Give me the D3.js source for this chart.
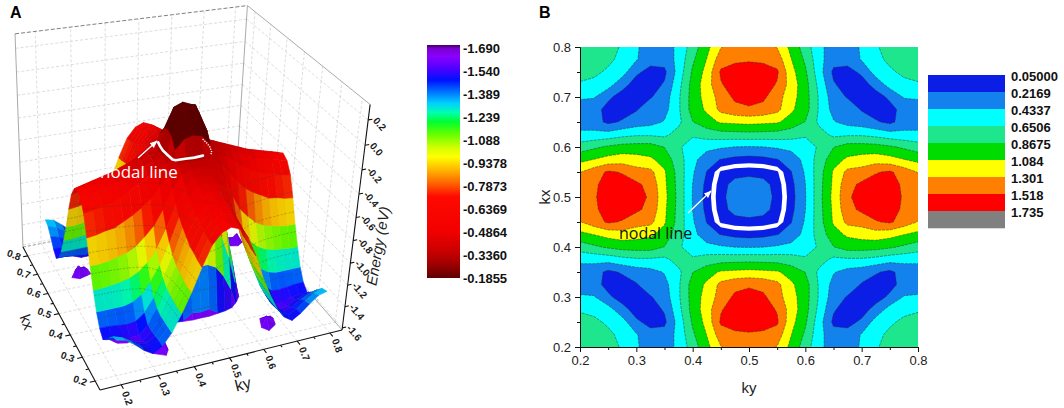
<!DOCTYPE html>
<html>
<head>
<meta charset="utf-8">
<script src="https://cdn.jsdelivr.net/npm/d3@7/dist/d3.min.js"></script>
<style>
html,body{margin:0;padding:0;background:#fff;}
svg{display:block;font-family:"Liberation Sans",Arial,sans-serif;}
</style>
</head>
<body>
<svg id="chart" width="1064" height="408"></svg>
<script>
// ---------------- DATA ----------------
// k-grid (both kx and ky), step 0.025
const kGrid = [0.2,0.225,0.25,0.275,0.3,0.325,0.35,0.375,0.4,0.425,0.45,0.475,0.5,0.525,0.55,0.575,0.6,0.625,0.65,0.675,0.7,0.725,0.75,0.775,0.8];
// signed gap band1 - band2 (eV); rows = kx ascending, cols = ky ascending (negative inside the nodal ring)
const gapGrid = [
[0.78,0.76,0.72,0.63,0.46,0.33,0.34,0.48,0.76,1.02,1.29,1.38,1.42,1.38,1.29,1.02,0.76,0.48,0.34,0.33,0.46,0.63,0.72,0.76,0.78],
[0.76,0.72,0.69,0.60,0.45,0.30,0.30,0.50,0.83,1.09,1.42,1.50,1.50,1.50,1.42,1.09,0.83,0.50,0.30,0.30,0.45,0.60,0.69,0.72,0.76],
[0.72,0.69,0.62,0.52,0.26,0.14,0.17,0.52,0.90,1.16,1.55,1.56,1.60,1.56,1.55,1.16,0.90,0.52,0.17,0.14,0.26,0.52,0.62,0.69,0.72],
[0.63,0.60,0.52,0.30,0.12,0.12,0.24,0.58,0.95,1.20,1.50,1.62,1.66,1.62,1.50,1.20,0.95,0.58,0.24,0.12,0.12,0.30,0.52,0.60,0.63],
[0.46,0.45,0.26,0.12,0.10,0.20,0.32,0.62,0.96,1.17,1.39,1.56,1.62,1.56,1.39,1.17,0.96,0.62,0.32,0.20,0.10,0.12,0.26,0.45,0.46],
[0.33,0.30,0.14,0.12,0.20,0.34,0.36,0.62,0.96,1.12,1.36,1.45,1.48,1.45,1.36,1.12,0.96,0.62,0.36,0.34,0.20,0.12,0.14,0.30,0.33],
[0.34,0.30,0.17,0.24,0.32,0.36,0.45,0.60,0.86,1.00,1.11,1.13,1.15,1.13,1.11,1.00,0.86,0.60,0.45,0.36,0.32,0.24,0.17,0.30,0.34],
[0.48,0.50,0.52,0.58,0.62,0.62,0.60,0.74,0.68,0.74,0.78,0.79,0.80,0.79,0.78,0.74,0.68,0.74,0.60,0.62,0.62,0.58,0.52,0.50,0.48],
[0.76,0.83,0.90,0.95,0.96,0.96,0.86,0.68,0.55,0.51,0.46,0.43,0.42,0.43,0.46,0.51,0.55,0.68,0.86,0.96,0.96,0.95,0.90,0.83,0.76],
[1.02,1.09,1.16,1.20,1.17,1.12,1.00,0.74,0.51,0.29,0.21,0.16,0.14,0.16,0.21,0.29,0.51,0.74,1.00,1.12,1.17,1.20,1.16,1.09,1.02],
[1.29,1.42,1.55,1.50,1.39,1.36,1.11,0.78,0.46,0.21,-0.07,-0.14,-0.16,-0.14,-0.07,0.21,0.46,0.78,1.11,1.36,1.39,1.50,1.55,1.42,1.29],
[1.38,1.50,1.56,1.62,1.56,1.45,1.13,0.79,0.43,0.16,-0.14,-0.29,-0.32,-0.29,-0.14,0.16,0.43,0.79,1.13,1.45,1.56,1.62,1.56,1.50,1.38],
[1.42,1.50,1.60,1.66,1.62,1.48,1.15,0.80,0.42,0.14,-0.16,-0.32,-0.33,-0.32,-0.16,0.14,0.42,0.80,1.15,1.48,1.62,1.66,1.60,1.50,1.42],
[1.38,1.50,1.56,1.62,1.56,1.45,1.13,0.79,0.43,0.16,-0.14,-0.29,-0.32,-0.29,-0.14,0.16,0.43,0.79,1.13,1.45,1.56,1.62,1.56,1.50,1.38],
[1.29,1.42,1.55,1.50,1.39,1.36,1.11,0.78,0.46,0.21,-0.07,-0.14,-0.16,-0.14,-0.07,0.21,0.46,0.78,1.11,1.36,1.39,1.50,1.55,1.42,1.29],
[1.02,1.09,1.16,1.20,1.17,1.12,1.00,0.74,0.51,0.29,0.21,0.16,0.14,0.16,0.21,0.29,0.51,0.74,1.00,1.12,1.17,1.20,1.16,1.09,1.02],
[0.76,0.83,0.90,0.95,0.96,0.96,0.86,0.68,0.55,0.51,0.46,0.43,0.42,0.43,0.46,0.51,0.55,0.68,0.86,0.96,0.96,0.95,0.90,0.83,0.76],
[0.48,0.50,0.52,0.58,0.62,0.62,0.60,0.74,0.68,0.74,0.78,0.79,0.80,0.79,0.78,0.74,0.68,0.74,0.60,0.62,0.62,0.58,0.52,0.50,0.48],
[0.34,0.30,0.17,0.24,0.32,0.36,0.45,0.60,0.86,1.00,1.11,1.13,1.15,1.13,1.11,1.00,0.86,0.60,0.45,0.36,0.32,0.24,0.17,0.30,0.34],
[0.33,0.30,0.14,0.12,0.20,0.34,0.36,0.62,0.96,1.12,1.36,1.45,1.48,1.45,1.36,1.12,0.96,0.62,0.36,0.34,0.20,0.12,0.14,0.30,0.33],
[0.46,0.45,0.26,0.12,0.10,0.20,0.32,0.62,0.96,1.17,1.39,1.56,1.62,1.56,1.39,1.17,0.96,0.62,0.32,0.20,0.10,0.12,0.26,0.45,0.46],
[0.63,0.60,0.52,0.30,0.12,0.12,0.24,0.58,0.95,1.20,1.50,1.62,1.66,1.62,1.50,1.20,0.95,0.58,0.24,0.12,0.12,0.30,0.52,0.60,0.63],
[0.72,0.69,0.62,0.52,0.26,0.14,0.17,0.52,0.90,1.16,1.55,1.56,1.60,1.56,1.55,1.16,0.90,0.52,0.17,0.14,0.26,0.52,0.62,0.69,0.72],
[0.76,0.72,0.69,0.60,0.45,0.30,0.30,0.50,0.83,1.09,1.42,1.50,1.50,1.50,1.42,1.09,0.83,0.50,0.30,0.30,0.45,0.60,0.69,0.72,0.76],
[0.78,0.76,0.72,0.63,0.46,0.33,0.34,0.48,0.76,1.02,1.29,1.38,1.42,1.38,1.29,1.02,0.76,0.48,0.34,0.33,0.46,0.63,0.72,0.76,0.78]
];
// energy of band 1 (the upper "sheet", eV); same layout
const band1Grid = [
[-1.30,-1.32,-1.38,-1.45,-1.50,-1.45,-1.35,-1.20,-1.03,-0.83,-0.66,-0.57,-0.54,-0.57,-0.66,-0.83,-1.03,-1.20,-1.35,-1.45,-1.50,-1.45,-1.38,-1.32,-1.30],
[-1.32,-1.35,-1.40,-1.46,-1.50,-1.45,-1.35,-1.20,-1.03,-0.82,-0.65,-0.55,-0.53,-0.55,-0.65,-0.82,-1.03,-1.20,-1.35,-1.45,-1.50,-1.46,-1.40,-1.35,-1.32],
[-1.38,-1.40,-1.44,-1.49,-1.51,-1.46,-1.35,-1.19,-1.02,-0.80,-0.63,-0.53,-0.52,-0.53,-0.63,-0.80,-1.02,-1.19,-1.35,-1.46,-1.51,-1.49,-1.44,-1.40,-1.38],
[-1.45,-1.46,-1.49,-1.53,-1.54,-1.47,-1.35,-1.18,-1.00,-0.79,-0.61,-0.51,-0.50,-0.51,-0.61,-0.79,-1.00,-1.18,-1.35,-1.47,-1.54,-1.53,-1.49,-1.46,-1.45],
[-1.50,-1.50,-1.51,-1.54,-1.54,-1.46,-1.33,-1.16,-0.98,-0.75,-0.58,-0.49,-0.48,-0.49,-0.58,-0.75,-0.98,-1.16,-1.33,-1.46,-1.54,-1.54,-1.51,-1.50,-1.50],
[-1.45,-1.45,-1.46,-1.47,-1.46,-1.40,-1.28,-1.12,-0.94,-0.71,-0.54,-0.46,-0.45,-0.46,-0.54,-0.71,-0.94,-1.12,-1.28,-1.40,-1.46,-1.47,-1.46,-1.45,-1.45],
[-1.35,-1.35,-1.35,-1.35,-1.33,-1.28,-1.18,-1.05,-0.87,-0.66,-0.50,-0.43,-0.42,-0.43,-0.50,-0.66,-0.87,-1.05,-1.18,-1.28,-1.33,-1.35,-1.35,-1.35,-1.35],
[-1.20,-1.20,-1.19,-1.18,-1.16,-1.12,-1.05,-0.95,-0.79,-0.59,-0.45,-0.40,-0.39,-0.40,-0.45,-0.59,-0.79,-0.95,-1.05,-1.12,-1.16,-1.18,-1.19,-1.20,-1.20],
[-1.03,-1.03,-1.02,-1.00,-0.98,-0.94,-0.87,-0.79,-0.66,-0.50,-0.40,-0.37,-0.36,-0.37,-0.40,-0.50,-0.66,-0.79,-0.87,-0.94,-0.98,-1.00,-1.02,-1.03,-1.03],
[-0.83,-0.82,-0.80,-0.79,-0.75,-0.71,-0.66,-0.59,-0.50,-0.42,-0.36,-0.34,-0.34,-0.34,-0.36,-0.42,-0.50,-0.59,-0.66,-0.71,-0.75,-0.79,-0.80,-0.82,-0.83],
[-0.66,-0.65,-0.63,-0.61,-0.58,-0.54,-0.50,-0.45,-0.40,-0.36,-0.33,-0.32,-0.32,-0.32,-0.33,-0.36,-0.40,-0.45,-0.50,-0.54,-0.58,-0.61,-0.63,-0.65,-0.66],
[-0.57,-0.55,-0.53,-0.51,-0.49,-0.46,-0.43,-0.40,-0.37,-0.34,-0.32,-0.31,-0.31,-0.31,-0.32,-0.34,-0.37,-0.40,-0.43,-0.46,-0.49,-0.51,-0.53,-0.55,-0.57],
[-0.54,-0.53,-0.52,-0.50,-0.48,-0.45,-0.42,-0.39,-0.36,-0.34,-0.32,-0.31,-0.31,-0.31,-0.32,-0.34,-0.36,-0.39,-0.42,-0.45,-0.48,-0.50,-0.52,-0.53,-0.54],
[-0.57,-0.55,-0.53,-0.51,-0.49,-0.46,-0.43,-0.40,-0.37,-0.34,-0.32,-0.31,-0.31,-0.31,-0.32,-0.34,-0.37,-0.40,-0.43,-0.46,-0.49,-0.51,-0.53,-0.55,-0.57],
[-0.66,-0.65,-0.63,-0.61,-0.58,-0.54,-0.50,-0.45,-0.40,-0.36,-0.33,-0.32,-0.32,-0.32,-0.33,-0.36,-0.40,-0.45,-0.50,-0.54,-0.58,-0.61,-0.63,-0.65,-0.66],
[-0.83,-0.82,-0.80,-0.79,-0.75,-0.71,-0.66,-0.59,-0.50,-0.42,-0.36,-0.34,-0.34,-0.34,-0.36,-0.42,-0.50,-0.59,-0.66,-0.71,-0.75,-0.79,-0.80,-0.82,-0.83],
[-1.03,-1.03,-1.02,-1.00,-0.98,-0.94,-0.87,-0.79,-0.66,-0.50,-0.40,-0.37,-0.36,-0.37,-0.40,-0.50,-0.66,-0.79,-0.87,-0.94,-0.98,-1.00,-1.02,-1.03,-1.03],
[-1.20,-1.20,-1.19,-1.18,-1.16,-1.12,-1.05,-0.95,-0.79,-0.59,-0.45,-0.40,-0.39,-0.40,-0.45,-0.59,-0.79,-0.95,-1.05,-1.12,-1.16,-1.18,-1.19,-1.20,-1.20],
[-1.35,-1.35,-1.35,-1.35,-1.33,-1.28,-1.18,-1.05,-0.87,-0.66,-0.50,-0.43,-0.42,-0.43,-0.50,-0.66,-0.87,-1.05,-1.18,-1.28,-1.33,-1.35,-1.35,-1.35,-1.35],
[-1.45,-1.45,-1.46,-1.47,-1.46,-1.40,-1.28,-1.12,-0.94,-0.71,-0.54,-0.46,-0.45,-0.46,-0.54,-0.71,-0.94,-1.12,-1.28,-1.40,-1.46,-1.47,-1.46,-1.45,-1.45],
[-1.50,-1.50,-1.51,-1.54,-1.54,-1.46,-1.33,-1.16,-0.98,-0.75,-0.58,-0.49,-0.48,-0.49,-0.58,-0.75,-0.98,-1.16,-1.33,-1.46,-1.54,-1.54,-1.51,-1.50,-1.50],
[-1.45,-1.46,-1.49,-1.53,-1.54,-1.47,-1.35,-1.18,-1.00,-0.79,-0.61,-0.51,-0.50,-0.51,-0.61,-0.79,-1.00,-1.18,-1.35,-1.47,-1.54,-1.53,-1.49,-1.46,-1.45],
[-1.38,-1.40,-1.44,-1.49,-1.51,-1.46,-1.35,-1.19,-1.02,-0.80,-0.63,-0.53,-0.52,-0.53,-0.63,-0.80,-1.02,-1.19,-1.35,-1.46,-1.51,-1.49,-1.44,-1.40,-1.38],
[-1.32,-1.35,-1.40,-1.46,-1.50,-1.45,-1.35,-1.20,-1.03,-0.82,-0.65,-0.55,-0.53,-0.55,-0.65,-0.82,-1.03,-1.20,-1.35,-1.45,-1.50,-1.46,-1.40,-1.35,-1.32],
[-1.30,-1.32,-1.38,-1.45,-1.50,-1.45,-1.35,-1.20,-1.03,-0.83,-0.66,-0.57,-0.54,-0.57,-0.66,-0.83,-1.03,-1.20,-1.35,-1.45,-1.50,-1.45,-1.38,-1.32,-1.30]
];
const gapLevels = [0.05,0.2169,0.4337,0.6506,0.8675,1.084,1.301,1.518,1.735];
const gapLevelLabels = ["0.05000","0.2169","0.4337","0.6506","0.8675","1.084","1.301","1.518","1.735"];
const gapColors = ["#0a1ee6","#1482ec","#00ffff","#1ee68c","#00dc00","#ffff00","#ff8000","#ff0000","#808080"];
const energyLabels = ["-1.690","-1.540","-1.389","-1.239","-1.088","-0.9378","-0.7873","-0.6369","-0.4864","-0.3360","-0.1855"];
const energyTicks = [-1.6,-1.4,-1.2,-1.0,-0.8,-0.6,-0.4,-0.2,0.0,0.2];
const kTicks = [0.2,0.3,0.4,0.5,0.6,0.7,0.8];
const kMinorTicks = [0.25,0.35,0.45,0.55,0.65,0.75];

// ---------------- SETUP ----------------
const svg = d3.select("#chart");
const n = kGrid.length;
const band2Grid = band1Grid.map((row,r)=>row.map((e,c)=>e - gapGrid[r][c]));
const fmt1 = v => (+v).toFixed(1);

const eMinC = +energyLabels[0], eMaxC = +energyLabels[energyLabels.length-1];
const cStops = [[0,"#400060"],[0.015,"#7a00d0"],[0.05,"#8a00ff"],[0.1,"#5000ff"],[0.15,"#0010ff"],[0.2,"#0070ff"],[0.25,"#00d0ff"],[0.29,"#00ffb0"],[0.33,"#00ff30"],[0.38,"#60ff00"],[0.44,"#d0ff00"],[0.48,"#ffff00"],[0.54,"#ffb000"],[0.6,"#ff5a00"],[0.65,"#ff0a00"],[0.8,"#f20000"],[0.88,"#cc0000"],[0.94,"#a00000"],[1,"#600000"]];
const eColor = d3.scaleLinear()
  .domain(cStops.map(s=>eMinC + s[0]*(eMaxC-eMinC)))
  .range(cStops.map(s=>s[1]))
  .interpolate(d3.interpolateRgb).clamp(true);

// ================= PANEL A (3D surface) =================
const gA = svg.append("g");
const box3 = {kx:[0.163,0.85], ky:[0.144,0.838], e:[-1.62,0.32]};
const su = d3.scaleLinear().domain(box3.ky).range([0,1]);
const sv = d3.scaleLinear().domain(box3.kx).range([0,1]);
const sw = d3.scaleLinear().domain(box3.e).range([0,1]);
const cam = {o:[100,390], v1:[2999,-329], v2:[-379,-499], v3:[99,2282], l:[0.0911,0.1916,-0.113]};
function P(kx,ky,e){
  const u=su(ky), v=sv(kx), w=sw(e);
  const a=cam.l[0]*u, b=cam.l[1]*v, c=cam.l[2]*w, d=1+a+b+c;
  return [(cam.o[0]+a*cam.v1[0]+b*cam.v2[0]+c*cam.v3[0])/d,
          (cam.o[1]+a*cam.v1[1]+b*cam.v2[1]+c*cam.v3[1])/d, d];
}
const [kx0,kx1]=box3.kx, [ky0,ky1]=box3.ky, [e0,e1]=box3.e;
const pstr = pts => "M" + pts.map(p=>p[0].toFixed(2)+","+p[1].toFixed(2)).join("L");
const seg = (a,b) => pstr([P(a[0],a[1],a[2]),P(b[0],b[1],b[2])]);

// back walls + floor grid
const gGrid = gA.append("g").attr("fill","none").attr("stroke","#cfcfcf").attr("stroke-width",0.7).attr("stroke-dasharray","3,2");
energyTicks.forEach(e=>{
  gGrid.append("path").attr("d", seg([kx1,ky0,e],[kx1,ky1,e]));
  gGrid.append("path").attr("d", seg([kx1,ky1,e],[kx0,ky1,e]));
});
kTicks.forEach(k=>{
  gGrid.append("path").attr("d", seg([kx1,k,e0],[kx1,k,e1]));
  gGrid.append("path").attr("d", seg([k,ky1,e0],[k,ky1,e1]));
  gGrid.append("path").attr("d", seg([k,ky0,e0],[k,ky1,e0]));
  gGrid.append("path").attr("d", seg([kx0,k,e0],[kx1,k,e0]));
});
const gEdge = gA.append("g").attr("fill","none").attr("stroke-width",0.9);
gEdge.append("path").attr("d", seg([kx1,ky0,e0],[kx1,ky0,e1])).attr("stroke","#a0a0a0");
gEdge.append("path").attr("d", seg([kx1,ky1,e0],[kx1,ky1,e1])).attr("stroke","#a0a0a0");
gEdge.append("path").attr("d", seg([kx1,ky1,e1],[kx0,ky1,e1])).attr("stroke","#a0a0a0");
gEdge.append("path").attr("d", seg([kx1,ky0,e1],[kx1,ky1,e1])).attr("stroke","#707070").attr("stroke-dasharray","4,2");
gEdge.append("path").attr("d", seg([kx1,ky0,e0],[kx1,ky1,e0])).attr("stroke","#909090").attr("stroke-dasharray","3,2");
gEdge.append("path").attr("d", seg([kx1,ky1,e0],[kx0,ky1,e0])).attr("stroke","#a0a0a0");

// surfaces
function clipE(poly){
  const lerpAt=(a,b,E)=>{const t=(E-a[2])/(b[2]-a[2]); return [a[0]+t*(b[0]-a[0]), a[1]+t*(b[1]-a[1]), E];};
  const clipPlane=(pts, inside, lim)=>{const out=[]; for(let i=0;i<pts.length;i++){const a=pts[i], b=pts[(i+1)%pts.length]; const ia=inside(a), ib=inside(b); if(ia) out.push(a); if(ia!==ib) out.push(lerpAt(a,b,lim));} return out;};
  let p = clipPlane(poly, q=>q[2]>=e0, e0);
  if(p.length) p = clipPlane(p, q=>q[2]<=e1, e1);
  return p;
}
const isoLevels = energyLabels.slice(1,-1).map(Number);
const lightDir = (()=>{const v=[-0.45,-0.55,1]; const m=Math.hypot(...v); return v.map(x=>x/m);})();
const items=[];
[band1Grid, band2Grid].forEach(G=>{
  for(let r=0;r<n-1;r++) for(let c=0;c<n-1;c++){
    const q=[[kGrid[r],kGrid[c],G[r][c]],[kGrid[r],kGrid[c+1],G[r][c+1]],[kGrid[r+1],kGrid[c+1],G[r+1][c+1]],[kGrid[r+1],kGrid[c],G[r+1][c]]];
    const cl = clipE(q);
    if(cl.length<3) continue;
    const pr = cl.map(p=>P(p[0],p[1],p[2]));
    const depth = d3.mean(pr,p=>p[2]);
    const eAvg = d3.mean(cl,p=>p[2]);
    const U=q.map(p=>[su(p[1]),sv(p[0]),sw(p[2])]);
    const d1=[U[2][0]-U[0][0],U[2][1]-U[0][1],U[2][2]-U[0][2]], d2=[U[3][0]-U[1][0],U[3][1]-U[1][1],U[3][2]-U[1][2]];
    const nn=[d1[1]*d2[2]-d1[2]*d2[1], d1[2]*d2[0]-d1[0]*d2[2], d1[0]*d2[1]-d1[1]*d2[0]];
    const nm=Math.hypot(nn[0],nn[1],nn[2])||1;
    const dot=Math.abs((nn[0]*lightDir[0]+nn[1]*lightDir[1]+nn[2]*lightDir[2])/nm);
    const kk=0.82+0.18*dot;
    const col=d3.rgb(eColor(eAvg)); col.r*=kk; col.g*=kk; col.b*=kk;
    let iso="";
    isoLevels.forEach(L=>{
      if(L<e0||L>e1) return;
      const pts=[];
      for(let t=0;t<4;t++){const a=q[t], b=q[(t+1)%4]; if((a[2]-L)*(b[2]-L)<0){const f=(L-a[2])/(b[2]-a[2]); pts.push(P(a[0]+f*(b[0]-a[0]), a[1]+f*(b[1]-a[1]), L));}}
      if(pts.length>=2){ iso += pstr([pts[0],pts[1]]); if(pts.length===4) iso += pstr([pts[2],pts[3]]); }
    });
    items.push({d:pstr(pr)+"Z", depth, fill:col.formatHex(), iso});
  }
});
items.sort((a,b)=>b.depth-a.depth);
const gS = gA.append("g");
items.forEach(it=>{
  gS.append("path").attr("d",it.d).attr("fill",it.fill).attr("stroke",it.fill).attr("stroke-width",0.6).attr("stroke-linejoin","round");
  if(it.iso) gS.append("path").attr("d",it.iso).attr("fill","none").attr("stroke","#3a3a3a").attr("stroke-opacity",0.5).attr("stroke-width",0.6).attr("stroke-dasharray","2,1.5");
});

// nodal ring (zero of the gap) drawn on the sheet
const gi = d3.scaleLinear().domain([0.5, n-0.5]).range([kGrid[0], kGrid[n-1]]);
const gIdx = d3.scaleLinear().domain([kGrid[0], kGrid[n-1]]).range([0, n-1]);
function bilinear(G,kx,ky){
  const fr=gIdx(kx), fc=gIdx(ky); const r=Math.min(n-2,Math.floor(fr)), c=Math.min(n-2,Math.floor(fc));
  const tr=fr-r, tc=fc-c;
  return G[r][c]*(1-tr)*(1-tc)+G[r][c+1]*(1-tr)*tc+G[r+1][c]*tr*(1-tc)+G[r+1][c+1]*tr*tc;
}
const flatPos = gapGrid.flat(), flatNeg = flatPos.map(v=>-v);
const disk = d3.contours().size([n,n]).smooth(true).contour(flatNeg, 0);
let ringPts = disk.coordinates[0][0].map(([x,y])=>{const ky=gi(x), kx=gi(y); const th=Math.atan2(kx-0.5,ky-0.5)*180/Math.PI; return {kx,ky,phi:((th-135)%360+360)%360};});
ringPts.sort((a,b)=>a.phi-b.phi);
const ringXY = p => P(p.kx,p.ky,bilinear(band1Grid,p.kx,p.ky));
gA.append("path").attr("d", pstr(ringPts.filter(p=>p.phi<=168).map(ringXY))).attr("fill","none").attr("stroke","#fff").attr("stroke-width",2.6).attr("stroke-linecap","round");
gA.append("path").attr("d", pstr(ringPts.filter(p=>p.phi>=166&&p.phi<=252).map(ringXY))).attr("fill","none").attr("stroke","#fff").attr("stroke-width",1.4).attr("stroke-dasharray","1.2,1.3");

// front axes
const gAx = gA.append("g").attr("fill","none").attr("stroke","#111").attr("stroke-width",1.1);
gAx.append("path").attr("d", seg([kx0,ky0,e0],[kx1,ky0,e0]));
gAx.append("path").attr("d", seg([kx0,ky0,e0],[kx0,ky1,e0]));
gAx.append("path").attr("d", seg([kx0,ky1,e0],[kx0,ky1,e1]));
const gLab = gA.append("g").attr("font-size",10).attr("font-weight","bold").attr("fill","#1a1a1a");
kTicks.forEach(k=>{
  gAx.append("path").attr("d", seg([k,ky0,e0],[k,ky0-0.014,e0]));
  const p=P(k,ky0-0.022,e0);
  gLab.append("text").attr("transform",`translate(${p[0]},${p[1]}) rotate(20)`).attr("text-anchor","end").attr("dy","0.35em").text(fmt1(k));
  gAx.append("path").attr("d", seg([kx0,k,e0],[kx0-0.016,k,e0]));
  const q=P(kx0-0.028,k,e0);
  gLab.append("text").attr("transform",`translate(${q[0]},${q[1]}) rotate(70)`).attr("text-anchor","start").attr("dy","0.35em").text(fmt1(k));
});
kMinorTicks.forEach(k=>{
  gAx.append("path").attr("d", seg([k,ky0,e0],[k,ky0-0.008,e0]));
  gAx.append("path").attr("d", seg([kx0,k,e0],[kx0-0.009,k,e0]));
});
energyTicks.forEach(e=>{
  gAx.append("path").attr("d", seg([kx0,ky1,e],[kx0,ky1+0.012,e]));
  const p=P(kx0,ky1+0.02,e);
  gLab.append("text").attr("transform",`translate(${p[0]},${p[1]}) rotate(50)`).attr("text-anchor","start").attr("dy","0.35em").text(fmt1(e));
});
gA.append("text").attr("transform","translate(27,322) rotate(70)").attr("text-anchor","middle").attr("dy","0.35em").attr("font-size",15).attr("fill","#222").text("kx");
gA.append("text").attr("transform","translate(243,384) rotate(-14)").attr("text-anchor","middle").attr("dy","0.35em").attr("font-size",16).attr("fill","#222").text("ky");
gA.append("text").attr("transform","translate(378,246) rotate(-80)").attr("text-anchor","middle").attr("dy","0.35em").attr("font-size",15).attr("font-style","italic").attr("fill","#222").text("Energy (eV)");

// annotation A
const defs = svg.append("defs");
defs.append("marker").attr("id","arrW").attr("viewBox","0 0 10 10").attr("refX",9).attr("refY",5).attr("markerWidth",6).attr("markerHeight",6).attr("orient","auto")
  .append("path").attr("d","M0,1L10,5L0,9Z").attr("fill","#fff");
gA.append("line").attr("x1",138).attr("y1",158).attr("x2",157).attr("y2",141).attr("stroke","#fff").attr("stroke-width",1.3).attr("marker-end","url(#arrW)");
gA.append("text").attr("x",100).attr("y",178).attr("font-family","'Open Sans',sans-serif").attr("font-size",17).attr("fill","#fff").text("nodal line");

// colorbar A
const grad = defs.append("linearGradient").attr("id","rainbow").attr("x1",0).attr("y1",0).attr("x2",0).attr("y2",1);
cStops.forEach(s=>grad.append("stop").attr("offset",s[0]).attr("stop-color",s[1]));
const cbY = d3.scaleLinear().domain([eMinC,eMaxC]).range([48.3,278.3]);
gA.append("rect").attr("x",427).attr("y",45).attr("width",33).attr("height",233).attr("fill","url(#rainbow)");
energyLabels.forEach(l=>{
  gA.append("text").attr("x",463).attr("y",cbY(+l)).attr("dy","0.35em").attr("font-size",13).attr("font-weight","bold").attr("fill","#111").text(l);
});

// ================= PANEL B (contour) =================
const gB = svg.append("g");
const bx = d3.scaleLinear().domain([0.2,0.8]).range([580,918]);
const by = d3.scaleLinear().domain([0.2,0.8]).range([347,47]);
defs.append("clipPath").attr("id","clipB").append("rect").attr("x",bx(0.2)).attr("y",by(0.8)).attr("width",bx(0.8)-bx(0.2)).attr("height",by(0.2)-by(0.8));
const path2 = d3.geoPath(d3.geoTransform({point(x,y){ this.stream.point(bx(gi(x)), by(gi(y))); }}));
const gC = gB.append("g").attr("clip-path","url(#clipB)");
gC.append("rect").attr("x",bx(0.2)).attr("y",by(0.8)).attr("width",bx(0.8)-bx(0.2)).attr("height",by(0.2)-by(0.8)).attr("fill","#fff");
const cgen = d3.contours().size([n,n]).smooth(true);
gapLevels.forEach((t,k)=>{
  [flatPos, flatNeg].forEach(vals=>{
    const c = cgen.contour(vals, t);
    gC.append("path").attr("d", path2(c)).attr("fill", gapColors[k])
      .attr("stroke", k===0 ? "none" : "#2a2a2a").attr("stroke-width",0.6).attr("stroke-opacity",0.75).attr("stroke-dasharray","3,1");
  });
});
// axes B
const axStyle = g => { g.selectAll("text").attr("font-size",13).attr("fill","#222").attr("font-family","'Liberation Sans',Arial,sans-serif"); g.selectAll("path,line").attr("stroke","#111"); };
gB.append("g").attr("transform",`translate(0,${by(0.2)})`).call(d3.axisBottom(bx).tickValues(kTicks).tickFormat(fmt1).tickSize(5).tickSizeOuter(0).tickPadding(4)).call(axStyle);
gB.append("g").attr("transform",`translate(0,${by(0.2)})`).call(d3.axisBottom(bx).tickValues(kMinorTicks).tickFormat("").tickSize(3).tickSizeOuter(0)).call(axStyle);
gB.append("g").attr("transform",`translate(${bx(0.2)},0)`).call(d3.axisLeft(by).tickValues(kTicks).tickFormat(fmt1).tickSize(5).tickSizeOuter(0).tickPadding(4)).call(axStyle);
gB.append("g").attr("transform",`translate(${bx(0.2)},0)`).call(d3.axisLeft(by).tickValues(kMinorTicks).tickFormat("").tickSize(3).tickSizeOuter(0)).call(axStyle);
gB.append("text").attr("x",749).attr("y",393).attr("text-anchor","middle").attr("font-size",15).attr("fill","#222").text("ky");
gB.append("text").attr("transform","translate(550,197) rotate(-90)").attr("text-anchor","middle").attr("font-size",15).attr("fill","#222").text("kx");
// annotation B
gB.append("line").attr("x1",688).attr("y1",213).attr("x2",711).attr("y2",191).attr("stroke","#fff").attr("stroke-width",1.3).attr("marker-end","url(#arrW)");
gB.append("text").attr("x",619).attr("y",239).attr("font-family","'Open Sans',sans-serif").attr("font-size",16).attr("fill","#111").text("nodal line");
// legend B
const lgY = d3.scaleLinear().domain([0,gapLevels.length]).range([75,228]);
gapLevels.forEach((t,k)=>{
  gB.append("rect").attr("x",928).attr("y",lgY(k)).attr("width",77).attr("height",lgY(k+1)-lgY(k)+0.3).attr("fill",gapColors[k]);
  gB.append("text").attr("x",1011).attr("y",lgY(k)+1).attr("dy","0.35em").attr("font-size",13).attr("font-weight","bold").attr("fill","#111").text(gapLevelLabels[k]);
});

// panel letters
svg.append("text").attr("x",10).attr("y",18).attr("font-size",16).attr("font-weight","bold").text("A");
svg.append("text").attr("x",539).attr("y",18).attr("font-size",16).attr("font-weight","bold").text("B");
</script>
</body>
</html>
